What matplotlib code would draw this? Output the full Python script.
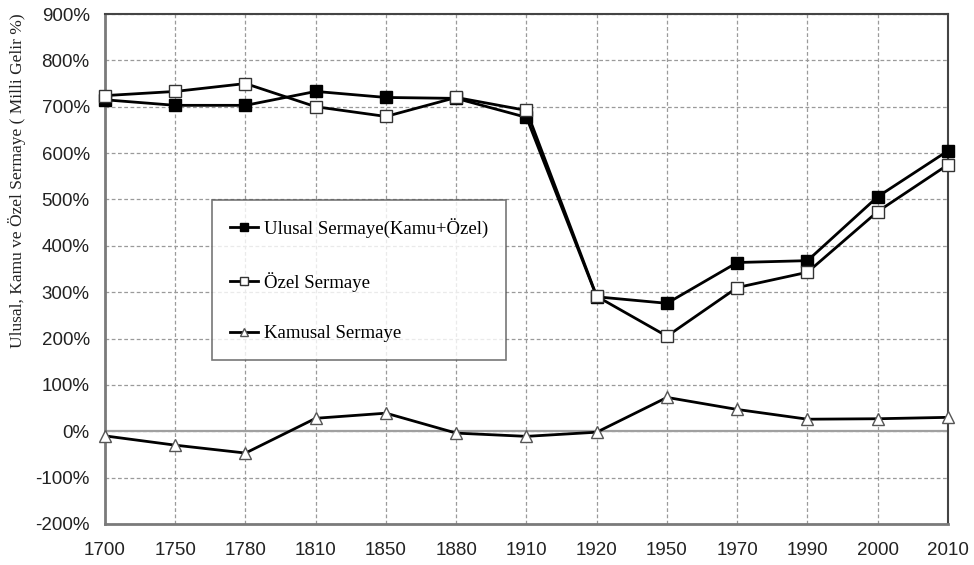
import matplotlib
matplotlib.use('Agg')
import matplotlib.pyplot as plt
from matplotlib.ticker import FuncFormatter

# yıllar (kategori ekseni, eşit aralıklı)
years = ['1700', '1750', '1780', '1810', '1850', '1880', '1910',
         '1920', '1950', '1970', '1990', '2000', '2010']

# milli gelirin yüzdesi olarak sermaye
ulusal = [715, 703, 703, 733, 720, 718, 677, 290, 276, 364, 368, 506, 605]
ozel = [724, 733, 750, 700, 679, 720, 692, 291, 205, 310, 343, 474, 575]
kamusal = [-10, -30, -47, 28, 39, -4, -11, -2, 73, 47, 26, 27, 30]

labels = ['Ulusal Sermaye(Kamu+Özel)', 'Özel Sermaye', 'Kamusal Sermaye']

fig = plt.figure(figsize=(9.74, 5.65), dpi=100)
ax = fig.add_axes([0.1078, 0.0726, 0.8655, 0.9026])

x = list(range(len(years)))

ax.axhline(0, color='#a0a0a0', lw=1.6, zorder=1)
ax.plot(x, ulusal, color='black', lw=2, marker='s', ms=9,
        mfc='black', mec='black', label=labels[0], zorder=3, clip_on=False)
ax.plot(x, ozel, color='black', lw=2, marker='s', ms=9,
        mfc='white', mec='#333333', mew=1, label=labels[1], zorder=4, clip_on=False)
ax.plot(x, kamusal, color='black', lw=2, marker='^', ms=9,
        mfc='white', mec='#555555', mew=1, label=labels[2], zorder=3, clip_on=False)

ax.set_xlim(0, len(years) - 1)
ax.set_ylim(-200, 900)
ax.set_yticks(range(-200, 901, 100))
ax.yaxis.set_major_formatter(FuncFormatter(lambda v, p: f'{int(v)}%'))
ax.set_xticks(x)
ax.set_xticklabels(years)

ax.grid(True, color='#9a9a9a', ls=(0, (3, 2)), lw=0.9)
ax.set_axisbelow(True)
ax.tick_params(length=0, labelsize=13.5, colors='#222222')
ax.tick_params(axis='x', pad=13)
ax.tick_params(axis='y', pad=11)
for lbl in ax.get_xticklabels() + ax.get_yticklabels():
    lbl.set_family('Liberation Sans')

for side in ['left', 'bottom']:
    ax.spines[side].set_color('#7a7a7a')
    ax.spines[side].set_linewidth(2)
for side in ['top', 'right']:
    ax.spines[side].set_color('#444444')
    ax.spines[side].set_linewidth(1.5)

leg = ax.legend(loc='upper left', bbox_to_anchor=(0.127, 0.635),
                borderaxespad=0, frameon=True, fancybox=False,
                prop={'family': 'Liberation Serif', 'size': 13.5},
                handlelength=1.5, handletextpad=0.3, labelspacing=1.8,
                borderpad=0.95, markerscale=0.7)
leg.get_frame().set_edgecolor('#555555')
leg.get_frame().set_linewidth(1.2)

fig.text(0.017, 0.68, 'Ulusal, Kamu ve Özel Sermaye ( Milli Gelir %)',
         rotation=90, ha='center', va='center',
         family='Liberation Serif', fontsize=12.5, color='#222222')

fig.savefig('out.png', dpi=100)
